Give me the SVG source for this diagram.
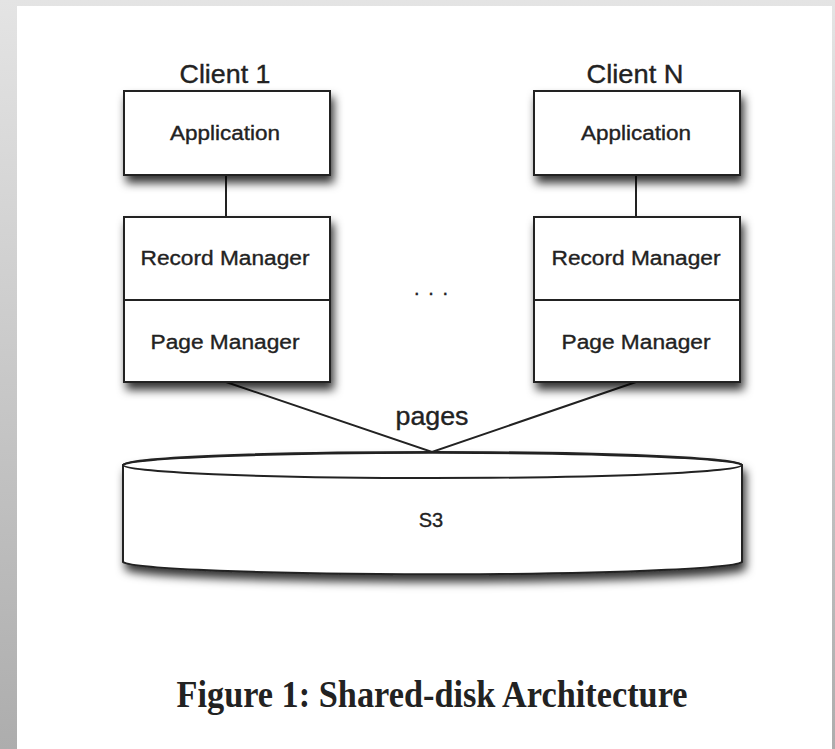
<svg xmlns="http://www.w3.org/2000/svg" width="835" height="749" viewBox="0 0 835 749">
<defs>
<linearGradient id="bg" x1="0" y1="0" x2="0" y2="1">
<stop offset="0" stop-color="#e4e4e4"/>
<stop offset="1" stop-color="#adadad"/>
</linearGradient>
<filter id="sh" x="-10%" y="-20%" width="125%" height="160%">
<feDropShadow dx="3" dy="7" stdDeviation="5" flood-color="#000" flood-opacity="0.8"/>
</filter>
<style>
.box{fill:#fff;stroke:#222;stroke-width:2}
.ln{fill:none;stroke:#222;stroke-width:2}
.lbl{font-family:"Liberation Sans",Arial,sans-serif;fill:#222;stroke:#222;stroke-width:0.35;text-anchor:middle}
.cap{font-family:"Liberation Serif","Times New Roman",serif;font-weight:bold;fill:#222;text-anchor:middle}
</style>
</defs>
<rect x="0" y="0" width="835" height="749" fill="url(#bg)"/>
<rect x="17" y="6" width="815" height="743" fill="#fff"/>

<g id="connectors">
<line class="ln" x1="226" y1="175" x2="226" y2="217"/>
<line class="ln" x1="636" y1="175" x2="636" y2="217"/>
<polyline class="ln" points="226,382 432,452 636,382"/>
</g>

<g id="client1">
<text class="lbl" x="225" y="83" font-size="25" textLength="91" lengthAdjust="spacingAndGlyphs">Client 1</text>
<g id="app1">
<rect class="box" x="124" y="91" width="206" height="84" filter="url(#sh)"/>
<text class="lbl" x="225" y="140" font-size="20" textLength="110" lengthAdjust="spacingAndGlyphs">Application</text>
</g>
<g id="stack1">
<rect class="box" x="124" y="217" width="206" height="165" filter="url(#sh)"/>
<line class="ln" x1="124" y1="300" x2="330" y2="300"/>
<text class="lbl" x="225" y="265" font-size="20" textLength="169" lengthAdjust="spacingAndGlyphs">Record Manager</text>
<text class="lbl" x="225" y="349" font-size="20" textLength="149" lengthAdjust="spacingAndGlyphs">Page Manager</text>
</g>
</g>

<g id="clientN">
<text class="lbl" x="635" y="83" font-size="25" textLength="97" lengthAdjust="spacingAndGlyphs">Client N</text>
<g id="appN">
<rect class="box" x="534" y="91" width="206" height="84" filter="url(#sh)"/>
<text class="lbl" x="636" y="140" font-size="20" textLength="110" lengthAdjust="spacingAndGlyphs">Application</text>
</g>
<g id="stackN">
<rect class="box" x="534" y="217" width="206" height="165" filter="url(#sh)"/>
<line class="ln" x1="534" y1="300" x2="740" y2="300"/>
<text class="lbl" x="636" y="265" font-size="20" textLength="169" lengthAdjust="spacingAndGlyphs">Record Manager</text>
<text class="lbl" x="636" y="349" font-size="20" textLength="149" lengthAdjust="spacingAndGlyphs">Page Manager</text>
</g>
</g>

<g id="ellipsis">
<text class="lbl" x="431" y="295" font-size="20" textLength="34" lengthAdjust="spacing">. . .</text>
</g>

<g id="pages-label">
<text class="lbl" x="432" y="425" font-size="25" textLength="73" lengthAdjust="spacingAndGlyphs">pages</text>
</g>

<g id="s3">
<path class="box" d="M123,465 L123,562 A310,13 0 0 0 742,562 L742,465 A310,13 0 0 0 123,465 Z" filter="url(#sh)"/>
<ellipse class="ln" cx="432.5" cy="465" rx="309.5" ry="13"/>
<text class="lbl" x="431" y="527" font-size="20">S3</text>
</g>

<text class="cap" x="432" y="707" font-size="37" textLength="511" lengthAdjust="spacingAndGlyphs">Figure 1: Shared-disk Architecture</text>
</svg>
